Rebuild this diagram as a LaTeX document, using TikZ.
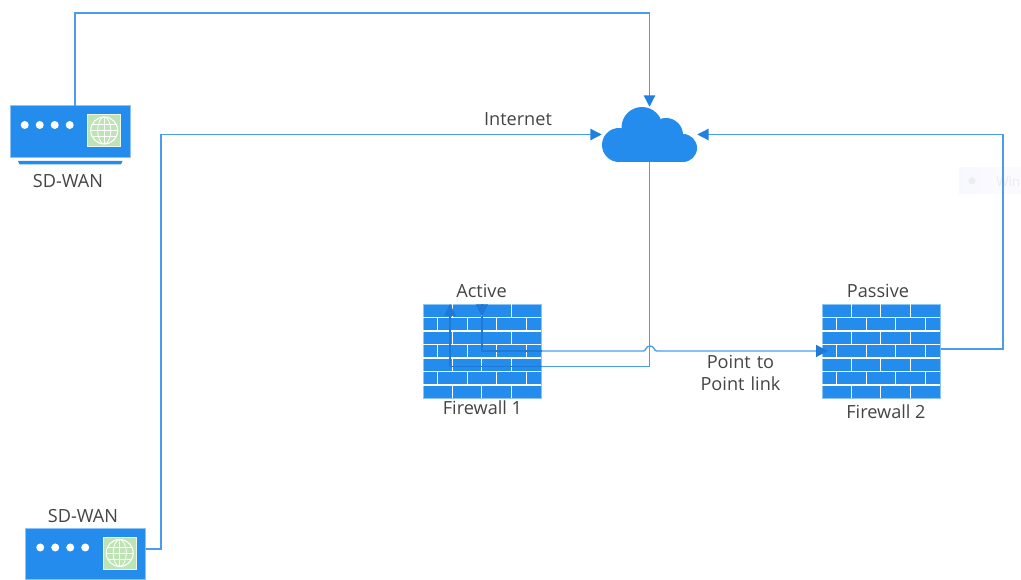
\documentclass[tikz,border=0pt]{standalone}
\usepackage{fontspec}
\setmainfont{Open Sans}
\usetikzlibrary{arrows.meta}
\definecolor{netblue}{HTML}{248CEC}
\definecolor{wirecol}{HTML}{4A9CEE}
\definecolor{tipcol}{HTML}{1F80E0}
\definecolor{darkwire}{HTML}{1F7AD6}
\definecolor{globebg}{HTML}{BEE3B4}
\definecolor{labelcol}{HTML}{444444}
\definecolor{edgecol}{HTML}{8CC4F5}
\newcommand{\pxu}{0.75pt}
\tikzset{
  wire/.style={draw=wirecol,line width=1pt},
  wiretip/.style={wire,-{Triangle[length=8.5pt,width=8.5pt,color=tipcol,fill=tipcol]}},
  darkline/.style={draw=darkwire,line width=0.8pt},
  darktip/.style={darkline,-{Triangle[length=9pt,width=9pt,color=darkwire,fill=darkwire]}},
  lbl/.style={text=labelcol,font=\fontsize{13.6}{16}\selectfont,inner sep=0pt,align=center},
  fwbox/.style={fill=netblue,draw=edgecol,line width=0.4pt,minimum width=118.6*\pxu,minimum height=94.5*\pxu,inner sep=0pt},
  rbox/.style={fill=netblue,draw=edgecol,line width=0.4pt,minimum width=120*\pxu,minimum height=51.5*\pxu,inner sep=0pt},
  gbox/.style={fill=globebg,draw=white!70!globebg,line width=0.7pt,minimum width=33*\pxu,minimum height=32*\pxu,inner sep=0pt},
  brick/.style={draw=white,line width=0.8pt},
  cloudfill/.style={fill=netblue,draw=none}
}
% brick pattern: name
\newcommand{\bricks}[1]{%
  \begin{scope}[shift={(#1.north west)},x=\pxu,y=-\pxu]
    \foreach \i in {1,...,6} \draw[brick] (0,13.5*\i) -- (118.6,13.5*\i);
    \foreach \r in {0,2,4,6}
      \foreach \b in {29.5,59,89} \draw[brick] (\b,13.5*\r) -- (\b,13.5*\r+13.5);
    \foreach \r in {1,3,5}
      \foreach \b in {14.5,44.5,74,103.5} \draw[brick] (\b,13.5*\r) -- (\b,13.5*\r+13.5);
  \end{scope}}
% router face: router node, globe node
\newcommand{\routerface}[2]{%
  \begin{scope}[shift={(#1.north west)},x=\pxu,y=-\pxu]
    \foreach \d in {15,30,45,60} \fill[white] (\d,19.5) circle (4);
    \node[gbox] (#2) at (94.5,25) {};
    \begin{scope}[shift={(94.5,25)},white,line width=0.6pt]
      \draw[line width=0.8pt] (0,0) circle (13.5);
      \draw (0,0) ellipse (6.5 and 13.5);
      \draw (0,-13.5) -- (0,13.5);
      \draw (-13.5,0) -- (13.5,0);
      \draw (-12,-6) -- (12,-6);
      \draw (-12,6) -- (12,6);
    \end{scope}
  \end{scope}}
\begin{document}
\begin{tikzpicture}[x=\pxu,y=-\pxu]
\useasboundingbox (0,0) rectangle (1021,580);
% faint watermark
\fill[left color=blue!3,right color=blue!1.5] (959,168) rectangle (1021,194);
\fill[black!7] (972,181) circle (3.5);
\node[text=black!8,font=\fontsize{10}{12}\selectfont,anchor=west,inner sep=0pt] (wm) at (996,182) {Win};

% routers
\node[rbox] (r1) at (70,131.5) {};
\fill[netblue] (18,161) -- (122.5,161) -- (121,164.5) -- (19.5,164.5) -- cycle;
\routerface{r1}{g1}
\node[rbox] (r2) at (85.5,554) {};
\routerface{r2}{g2}

% firewalls
\node[fwbox] (fw1) at (482.3,351.5) {};
\bricks{fw1}
\node[fwbox] (fw2) at (881.2,351.5) {};
\bricks{fw2}

% cloud
\node[minimum width=95*\pxu,minimum height=55*\pxu,inner sep=0pt] (cloud) at (649.5,134.5) {};
\begin{scope}[cloudfill]
  \fill[netblue] (619,145) circle (17);
  \fill[netblue] (642,127.5) circle (20.5);
  \fill[netblue] (666,135) circle (17);
  \fill[netblue] (683,148) circle (14);
  \fill[netblue] (619,138) rectangle (683,162);
\end{scope}

% bend points
\coordinate (r1top) at (75,106);
\coordinate (a1) at (75,13);
\coordinate (a2) at (649.5,13);
\coordinate (r2out) at (146,549);
\coordinate (b1) at (161,549);
\coordinate (b2) at (161,134.5);
\coordinate (c1) at (649.5,366.5);
\coordinate (c2) at (450,366.5);
\coordinate (c3) at (450,304);
\coordinate (d0) at (482,304);
\coordinate (d1) at (482,316.5);
\coordinate (d2) at (482,351);
\coordinate (j1) at (643.5,351);
\coordinate (j2) at (656.5,351);
\coordinate (d3) at (828,351);
\coordinate (e0) at (941,349);
\coordinate (e1) at (1003,349);
\coordinate (e2) at (1003,134.5);

% connectors
\draw[wiretip] (r1top) -- (a1) -- (a2) -- (cloud.north);
\draw[wiretip] (r2out) -- (b1) -- (b2) -- (cloud.west);
\draw[wiretip] (e0) -- (e1) -- (e2) -- (cloud.east);
\draw[wire] (cloud.south) -- (c1) -- (fw1.east |- c1);
\draw[darktip] (fw1.east |- c1) -- (c2) -- (c3);
\draw[darktip] (d0) -- (d1);
\draw[darkline] (d1) -- (d2) -- (fw1.east |- d2);
\draw[wire] (fw1.east |- d2) -- (j1) .. controls (646,351) and (645.5,346) .. (650,346) .. controls (654.5,346) and (654,351) .. (j2) -- (fw2.west |- d2);
\draw[darktip] (fw2.west |- d2) -- (d3);

% labels
\node[lbl] (l1) at (68,181) {SD-WAN};
\node[lbl] (l2) at (83,516) {SD-WAN};
\node[lbl] (l3) at (518,119.5) {Internet};
\node[lbl] (l4) at (481.5,291) {Active};
\node[lbl] (l5) at (482.5,408) {Firewall 1};
\node[lbl] (l6) at (878,291) {Passive};
\node[lbl] (l7) at (886,412) {Firewall 2};
\node[lbl,text width=100*\pxu] (l8) at (740.5,373) {\baselineskip=24\dimexpr\pxu\relax Point to\\Point link};
\end{tikzpicture}
\end{document}
